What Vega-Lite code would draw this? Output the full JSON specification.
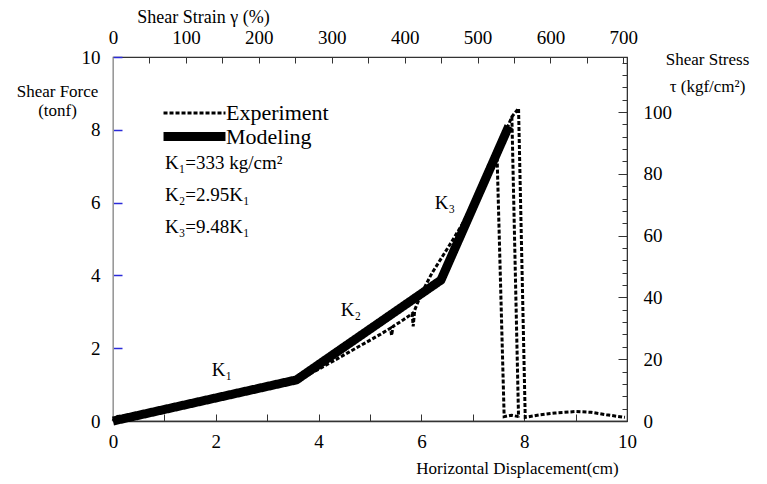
{
  "$schema": "https://vega.github.io/schema/vega-lite/v6.json",
  "width": 514,
  "height": 364,
  "autosize": {"type": "none"},
  "padding": {"left": 113, "top": 57, "right": 140, "bottom": 63},
  "background": "white",
  "config": {
    "view": {"stroke": "#333", "strokeWidth": 1.2},
    "font": "Times New Roman",
    "axis": {
      "grid": false,
      "labelFont": "Times New Roman",
      "titleFont": "Times New Roman",
      "labelColor": "black",
      "titleColor": "black",
      "titleFontWeight": "normal",
      "labelFontSize": 19,
      "titleFontSize": 19,
      "labelFlush": false,
      "labelOverlap": false,
      "labelBound": false,
      "domainColor": "#333",
      "tickColor": "#333"
    },
    "legend": {"labelFont": "Times New Roman"}
  },
  "datasets": {
    "curves": [
      {"series": "Modeling", "seg": "m", "i": 0, "x": 0, "y": 0},
      {"series": "Modeling", "seg": "m", "i": 1, "x": 3.57, "y": 1.13},
      {"series": "Modeling", "seg": "m", "i": 2, "x": 6.38, "y": 3.87},
      {"series": "Modeling", "seg": "m", "i": 3, "x": 7.7, "y": 8.1},
      {"series": "Experiment", "seg": "e1", "i": 0, "x": 0, "y": 0},
      {"series": "Experiment", "seg": "e1", "i": 1, "x": 0.05, "y": 0.12},
      {"series": "Experiment", "seg": "e1", "i": 2, "x": 0.3, "y": 0.15},
      {"series": "Experiment", "seg": "e1", "i": 3, "x": 0.6, "y": 0.24},
      {"series": "Experiment", "seg": "e1", "i": 4, "x": 1.0, "y": 0.36},
      {"series": "Experiment", "seg": "e1", "i": 5, "x": 1.5, "y": 0.51},
      {"series": "Experiment", "seg": "e1", "i": 6, "x": 2.0, "y": 0.66},
      {"series": "Experiment", "seg": "e1", "i": 7, "x": 2.5, "y": 0.81},
      {"series": "Experiment", "seg": "e1", "i": 8, "x": 3.0, "y": 0.96},
      {"series": "Experiment", "seg": "e1", "i": 9, "x": 3.4, "y": 1.09},
      {"series": "Experiment", "seg": "e1", "i": 10, "x": 3.7, "y": 1.2},
      {"series": "Experiment", "seg": "e1", "i": 11, "x": 4.0, "y": 1.42},
      {"series": "Experiment", "seg": "e1", "i": 12, "x": 4.3, "y": 1.66},
      {"series": "Experiment", "seg": "e1", "i": 13, "x": 4.6, "y": 1.9},
      {"series": "Experiment", "seg": "e1", "i": 14, "x": 4.9, "y": 2.14},
      {"series": "Experiment", "seg": "e1", "i": 15, "x": 5.2, "y": 2.38},
      {"series": "Experiment", "seg": "e1", "i": 16, "x": 5.4, "y": 2.55},
      {"series": "Experiment", "seg": "e1", "i": 17, "x": 5.42, "y": 2.35},
      {"series": "Experiment", "seg": "e1", "i": 18, "x": 5.45, "y": 2.6},
      {"series": "Experiment", "seg": "e1", "i": 19, "x": 5.65, "y": 2.78},
      {"series": "Experiment", "seg": "e1", "i": 20, "x": 5.82, "y": 2.95},
      {"series": "Experiment", "seg": "e1", "i": 21, "x": 5.84, "y": 2.6},
      {"series": "Experiment", "seg": "e1", "i": 22, "x": 5.87, "y": 3.05},
      {"series": "Experiment", "seg": "e1", "i": 23, "x": 6.0, "y": 3.5},
      {"series": "Experiment", "seg": "e1", "i": 24, "x": 6.2, "y": 4.05},
      {"series": "Experiment", "seg": "e1", "i": 25, "x": 6.4, "y": 4.5},
      {"series": "Experiment", "seg": "e1", "i": 26, "x": 6.6, "y": 4.95},
      {"series": "Experiment", "seg": "e1", "i": 27, "x": 6.8, "y": 5.42},
      {"series": "Experiment", "seg": "e1", "i": 28, "x": 7.0, "y": 5.97},
      {"series": "Experiment", "seg": "e1", "i": 29, "x": 7.2, "y": 6.57},
      {"series": "Experiment", "seg": "e1", "i": 30, "x": 7.4, "y": 7.17},
      {"series": "Experiment", "seg": "e1", "i": 31, "x": 7.6, "y": 7.82},
      {"series": "Experiment", "seg": "e1", "i": 32, "x": 7.76, "y": 8.36},
      {"series": "Experiment", "seg": "e1", "i": 33, "x": 7.89, "y": 8.59},
      {"series": "Experiment", "seg": "e1", "i": 34, "x": 8.02, "y": 0.1},
      {"series": "Experiment", "seg": "e1", "i": 35, "x": 8.3, "y": 0.17},
      {"series": "Experiment", "seg": "e1", "i": 36, "x": 8.6, "y": 0.22},
      {"series": "Experiment", "seg": "e1", "i": 37, "x": 9.0, "y": 0.26},
      {"series": "Experiment", "seg": "e1", "i": 38, "x": 9.3, "y": 0.24},
      {"series": "Experiment", "seg": "e1", "i": 39, "x": 9.6, "y": 0.17},
      {"series": "Experiment", "seg": "e1", "i": 40, "x": 9.96, "y": 0.1},
      {"series": "Experiment", "seg": "e2", "i": 0, "x": 7.47, "y": 7.4},
      {"series": "Experiment", "seg": "e2", "i": 1, "x": 7.61, "y": 0.12},
      {"series": "Experiment", "seg": "e2", "i": 2, "x": 7.75, "y": 0.16},
      {"series": "Experiment", "seg": "e2", "i": 3, "x": 7.89, "y": 0.12},
      {"series": "Experiment", "seg": "e3", "i": 0, "x": 7.76, "y": 8.36},
      {"series": "Experiment", "seg": "e3", "i": 1, "x": 7.89, "y": 0.1}
    ]
  },
  "layer": [
    {
      "layer": [
        {
          "data": {"name": "curves"},
          "mark": {"type": "line", "color": "black", "strokeCap": "butt"},
          "encoding": {
            "x": {
              "field": "x", "type": "quantitative",
              "scale": {"domain": [0, 10], "nice": false, "zero": false},
              "axis": {
                "orient": "bottom",
                "values": [0, 1, 2, 3, 4, 5, 6, 7, 8, 9, 10],
                "labelExpr": "datum.value % 2 === 0 ? datum.label : ''",
                "labelFont": "Times New Roman",
                "tickSize": -7,
                "labelPadding": 18,
                "domainWidth": 1.5,
                "title": "Horizontal Displacement(cm)",
                "titleFont": "Times New Roman",
                "titleFontSize": 17,
                "titleX": 404,
                "titleY": 47,
                "titleAlign": "center",
                "titleBaseline": "middle"
              }
            },
            "y": {
              "field": "y", "type": "quantitative",
              "scale": {"domain": [0, 10], "nice": false, "zero": false},
              "axis": {
                "orient": "left",
                "values": [0, 0.5, 1, 1.5, 2, 2.5, 3, 3.5, 4, 4.5, 5, 5.5, 6, 6.5, 7, 7.5, 8, 8.5, 9, 9.5, 10],
                "labelExpr": "datum.value % 2 === 0 ? datum.label : ''",
                "labelFont": "Times New Roman",
                "tickSize": {"condition": {"test": "datum.value % 2 === 0", "value": -9}, "value": -5},
                "tickColor": {"condition": {"test": "datum.value % 2 === 0", "value": "#2b2bd9"}, "value": "#8a8ae8"},
                "tickWidth": 1.5,
                "domainColor": "#999",
                "labelPadding": 22,
                "title": ["Shear Force", "(tonf)"],
                "titleFont": "Times New Roman",
                "titleFontSize": 17,
                "titleAngle": 0,
                "titleAlign": "center",
                "titleBaseline": "top",
                "titleX": -56,
                "titleY": 26,
                "titleLineHeight": 19
              }
            },
            "strokeDash": {
              "field": "series", "type": "nominal",
              "scale": {"domain": ["Experiment", "Modeling"], "range": [[4, 2], [1, 0]]},
              "legend": {
                "orient": "none", "legendX": 69, "legendY": 45, "title": null,
                "symbolType": "M-4,0H4", "symbolSize": 240, "symbolStrokeColor": "black",
                "labelFont": "Times New Roman",
                "labelFontSize": 22, "labelOffset": 19, "rowPadding": -20
              }
            },
            "strokeWidth": {
              "field": "series", "type": "nominal",
              "scale": {"domain": ["Experiment", "Modeling"], "range": [3, 9]},
              "legend": {
                "orient": "none", "legendX": 69, "legendY": 45, "title": null,
                "symbolType": "M-4,0H4", "symbolSize": 240, "symbolStrokeColor": "black",
                "labelFont": "Times New Roman",
                "labelFontSize": 22, "labelOffset": 19, "rowPadding": -20
              }
            },
            "detail": {"field": "seg"},
            "order": {"field": "i", "type": "quantitative"}
          }
        },
        {
          "data": {"values": [{}]},
          "mark": {"type": "text", "align": "left", "baseline": "middle", "fontSize": 19, "font": "Times New Roman"},
          "encoding": {"x": {"datum": 1.01}, "y": {"datum": 7.09}, "text": {"value": "K₁=333 kg/cm²"}}
        },
        {
          "data": {"values": [{}]},
          "mark": {"type": "text", "align": "left", "baseline": "middle", "fontSize": 19, "font": "Times New Roman"},
          "encoding": {"x": {"datum": 1.01}, "y": {"datum": 6.21}, "text": {"value": "K₂=2.95K₁"}}
        },
        {
          "data": {"values": [{}]},
          "mark": {"type": "text", "align": "left", "baseline": "middle", "fontSize": 19, "font": "Times New Roman"},
          "encoding": {"x": {"datum": 1.01}, "y": {"datum": 5.33}, "text": {"value": "K₃=9.48K₁"}}
        },
        {
          "data": {"values": [{}]},
          "mark": {"type": "text", "align": "center", "baseline": "middle", "fontSize": 19, "font": "Times New Roman"},
          "encoding": {"x": {"datum": 2.12}, "y": {"datum": 1.4}, "text": {"value": "K₁"}}
        },
        {
          "data": {"values": [{}]},
          "mark": {"type": "text", "align": "center", "baseline": "middle", "fontSize": 19, "font": "Times New Roman"},
          "encoding": {"x": {"datum": 4.63}, "y": {"datum": 3.05}, "text": {"value": "K₂"}}
        },
        {
          "data": {"values": [{}]},
          "mark": {"type": "text", "align": "center", "baseline": "middle", "fontSize": 19, "font": "Times New Roman"},
          "encoding": {"x": {"datum": 6.46}, "y": {"datum": 5.99}, "text": {"value": "K₃"}}
        }
      ]
    },
    {
      "data": {"values": [{"strain": 0}, {"strain": 700}]},
      "mark": {"type": "point", "opacity": 0},
      "encoding": {
        "x": {
          "field": "strain", "type": "quantitative",
          "scale": {"domain": [0, 705], "nice": false, "zero": false},
          "axis": {
            "orient": "top",
            "values": [0, 50, 100, 150, 200, 250, 300, 350, 400, 450, 500, 550, 600, 650, 700],
            "labelExpr": "datum.value % 100 === 0 ? datum.label : ''",
            "labelFont": "Times New Roman",
            "tickSize": -6,
            "labelPadding": 16,
            "title": "Shear Strain γ (%)",
            "titleFont": "Times New Roman",
            "titleFontSize": 18,
            "titleX": 90,
            "titleY": -40,
            "titleAlign": "center",
            "titleBaseline": "middle"
          }
        }
      }
    },
    {
      "data": {"values": [{"stress": 0}, {"stress": 100}]},
      "mark": {"type": "point", "opacity": 0},
      "encoding": {
        "y": {
          "field": "stress", "type": "quantitative",
          "scale": {"domain": [0, 117.8], "nice": false, "zero": false},
          "axis": {
            "orient": "right",
            "values": [0, 4, 8, 12, 16, 20, 24, 28, 32, 36, 40, 44, 48, 52, 56, 60, 64, 68, 72, 76, 80, 84, 88, 92, 96, 100, 104, 108, 112, 116],
            "labelExpr": "datum.value % 20 === 0 ? datum.label : ''",
            "labelFont": "Times New Roman",
            "tickSize": {"condition": {"test": "datum.value % 20 === 0", "value": -9}, "value": -5},
            "labelPadding": 25,
            "title": ["Shear Stress", "τ (kgf/cm²)"],
            "titleFont": "Times New Roman",
            "titleFontSize": 17,
            "titleAngle": 0,
            "titleAlign": "center",
            "titleBaseline": "top",
            "titleX": 80,
            "titleY": -6,
            "titleLineHeight": 27
          }
        }
      }
    }
  ],
  "resolve": {"scale": {"x": "independent", "y": "independent"}}
}
